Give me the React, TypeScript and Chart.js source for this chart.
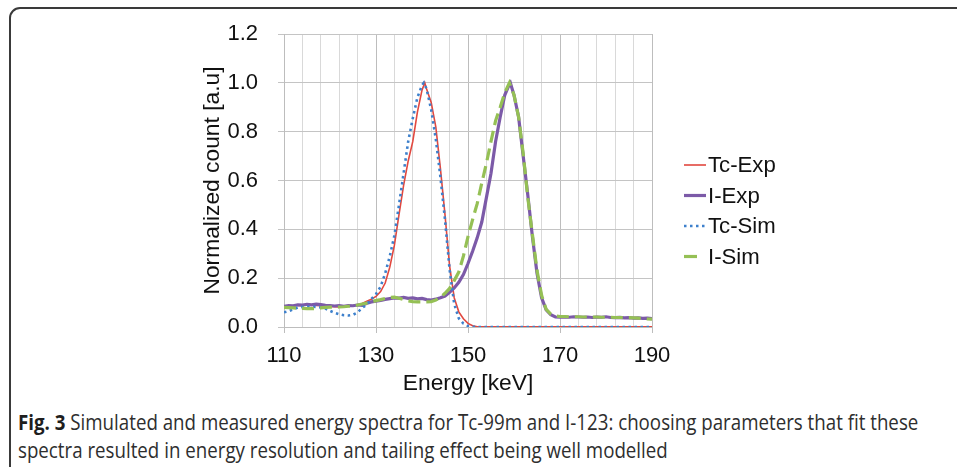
import React, { useEffect, useRef } from "react";
import { Chart, registerables } from "chart.js";

Chart.register(...registerables);

// ---------- data ----------
const seriesNames = ["Tc-Exp", "I-Exp", "Tc-Sim", "I-Sim"];

const tcExpEnergy = [110, 111, 112, 113, 114, 115, 116, 117, 118, 119, 120, 121, 122, 123, 124, 125, 126, 127, 128, 129, 130, 131, 132, 133, 134, 135, 136, 137, 138, 139, 140, 140.6, 141, 142, 143, 144, 145, 146, 147, 148, 149, 150, 151, 152, 160, 170, 180, 190];
const tcExpCount = [0.085, 0.087, 0.086, 0.089, 0.088, 0.09, 0.089, 0.088, 0.087, 0.085, 0.084, 0.083, 0.082, 0.084, 0.086, 0.088, 0.091, 0.096, 0.106, 0.114, 0.125, 0.145, 0.18, 0.245, 0.335, 0.46, 0.58, 0.68, 0.76, 0.88, 0.97, 1.0, 0.975, 0.92, 0.82, 0.65, 0.46, 0.25, 0.12, 0.062, 0.034, 0.015, 0.005, 0.001, 0.001, 0.001, 0.001, 0.001];

const iExpEnergy = [110, 111, 112, 113, 114, 115, 116, 117, 118, 119, 120, 121, 122, 123, 124, 125, 126, 127, 128, 129, 130, 131, 132, 133, 134, 135, 136, 137, 138, 139, 140, 141, 142, 143, 144, 145, 146, 147, 148, 149, 150, 151, 152, 153, 154, 155, 156, 157, 158, 159, 159.2, 160, 161, 162, 163, 164, 165, 166, 167, 168, 169, 170, 171, 172, 173, 174, 175, 176, 177, 178, 179, 180, 181, 182, 183, 184, 185, 186, 187, 188, 189, 190];
const iExpCount = [0.085, 0.088, 0.087, 0.091, 0.09, 0.093, 0.091, 0.094, 0.092, 0.089, 0.088, 0.086, 0.088, 0.085, 0.088, 0.087, 0.09, 0.089, 0.097, 0.103, 0.106, 0.109, 0.113, 0.116, 0.119, 0.118, 0.121, 0.117, 0.119, 0.115, 0.117, 0.112, 0.11, 0.114, 0.12, 0.127, 0.142, 0.16, 0.183, 0.215, 0.26, 0.31, 0.365, 0.43, 0.53, 0.63, 0.76, 0.86, 0.95, 0.995, 1.0, 0.95, 0.86, 0.7, 0.54, 0.37, 0.22, 0.12, 0.07, 0.05, 0.041, 0.04, 0.041, 0.04, 0.042, 0.041, 0.04, 0.041, 0.039, 0.041, 0.04, 0.042, 0.039, 0.038, 0.039, 0.037, 0.038, 0.036, 0.037, 0.035, 0.036, 0.034];

const tcSimEnergy = [110, 111, 112, 113, 114, 115, 116, 117, 118, 119, 120, 121, 122, 123, 124, 125, 126, 127, 128, 129, 130, 131, 132, 133, 134, 135, 136, 137, 138, 139, 140, 140.4, 141, 142, 143, 144, 145, 146, 147, 148, 149, 150, 151, 152, 160, 170, 180, 190];
const tcSimCount = [0.06, 0.065, 0.072, 0.08, 0.082, 0.083, 0.083, 0.082, 0.08, 0.075, 0.066, 0.058, 0.052, 0.048, 0.047, 0.05, 0.06, 0.078, 0.092, 0.115, 0.135, 0.165, 0.22, 0.29, 0.375, 0.5, 0.63, 0.76, 0.855, 0.94, 0.99, 1.0, 0.975, 0.89, 0.77, 0.615, 0.44, 0.235, 0.095, 0.035, 0.014, 0.004, 0.001, 0, 0, 0, 0, 0];

const iSimEnergy = [110, 111, 112, 113, 114, 115, 116, 117, 118, 119, 120, 121, 122, 123, 124, 125, 126, 127, 128, 129, 130, 131, 132, 133, 134, 135, 136, 137, 138, 139, 140, 141, 142, 143, 144, 145, 146, 147, 148, 149, 150, 151, 152, 153, 154, 155, 156, 157, 158, 159, 160, 161, 162, 163, 164, 165, 166, 167, 168, 169, 170, 171, 172, 173, 174, 175, 176, 177, 178, 179, 180, 181, 182, 183, 184, 185, 186, 187, 188, 189, 190];
const iSimCount = [0.08, 0.079, 0.078, 0.077, 0.076, 0.075, 0.075, 0.076, 0.078, 0.08, 0.081, 0.081, 0.082, 0.083, 0.085, 0.087, 0.09, 0.094, 0.098, 0.103, 0.108, 0.112, 0.117, 0.121, 0.122, 0.118, 0.112, 0.107, 0.104, 0.103, 0.103, 0.103, 0.104, 0.11, 0.122, 0.138, 0.158, 0.19, 0.225, 0.29, 0.37, 0.44, 0.505, 0.59, 0.67, 0.76, 0.845, 0.9, 0.96, 1.0, 0.95, 0.86, 0.71, 0.53, 0.38, 0.232, 0.13, 0.072, 0.053, 0.045, 0.043, 0.043, 0.042, 0.042, 0.042, 0.041, 0.041, 0.041, 0.041, 0.04, 0.04, 0.04, 0.039, 0.039, 0.038, 0.038, 0.037, 0.036, 0.035, 0.033, 0.032];

const xTickLabels = [110, 130, 150, 170, 190];
const yTickLabels = [0, 0.2, 0.4, 0.6, 0.8, 1.0, 1.2];

const xTitle = "Energy [keV]";
const yTitle = "Normalized count [a.u]";
const captionBold = "Fig. 3";
const captionLine1 = " Simulated and measured energy spectra for Tc-99m and I-123: choosing parameters that fit these";
const captionLine2 = "spectra resulted in energy resolution and tailing effect being well modelled";

// ---------- styles ----------
const FONT = '"Liberation Sans", Arial, sans-serif';
const FS_TICK = 22;
const FS_TITLE = 22.8;
const FS_LEGEND = 22.2;

const toXY = (xs: number[], ys: number[]) => xs.map((x, i) => ({ x, y: ys[i] }));

const legendPlugin = {
  id: "sideLegend",
  afterDraw(chart: any) {
    const { ctx, chartArea } = chart;
    const x0 = chartArea.right + 32;
    const y0 = chartArea.top + 131;
    ctx.save();
    chart.data.datasets.forEach((ds: any, i: number) => {
      const y = y0 + i * 30.5;
      ctx.beginPath();
      ctx.strokeStyle = ds.borderColor;
      ctx.lineWidth = ds.borderWidth;
      ctx.setLineDash(ds.legendDash || ds.borderDash || []);
      ctx.moveTo(x0, y);
      ctx.lineTo(x0 + 22, y);
      ctx.stroke();
      ctx.setLineDash([]);
      ctx.fillStyle = "#111";
      ctx.font = `${FS_LEGEND}px ${FONT}`;
      ctx.textBaseline = "middle";
      ctx.textAlign = "left";
      ctx.fillText(ds.label, x0 + 24, y + 1);
    });
    ctx.restore();
  },
};

export default function App() {
  const canvasRef = useRef<HTMLCanvasElement | null>(null);
  const l1Ref = useRef<HTMLDivElement | null>(null);
  const l2Ref = useRef<HTMLDivElement | null>(null);

  useEffect(() => {
    if (!canvasRef.current) return;
    const chart = new Chart(canvasRef.current, {
      type: "line",
      data: {
        datasets: [
          {
            label: seriesNames[0],
            data: toXY(tcExpEnergy, tcExpCount),
            borderColor: "#e2483f",
            borderWidth: 1.6,
            pointRadius: 0,
            order: 4,
          },
          {
            label: seriesNames[1],
            data: toXY(iExpEnergy, iExpCount),
            borderColor: "#7c5aa8",
            borderWidth: 3.2,
            pointRadius: 0,
            order: 3,
          },
          {
            label: seriesNames[2],
            data: toXY(tcSimEnergy, tcSimCount),
            borderColor: "#3d80cc",
            borderWidth: 2.6,
            borderDash: [2.5, 3.5],
            pointRadius: 0,
            order: 2,
          },
          {
            label: seriesNames[3],
            data: toXY(iSimEnergy, iSimCount),
            borderColor: "#95c055",
            borderWidth: 3.2,
            borderDash: [12, 6],
            legendDash: [13, 20],
            pointRadius: 0,
            order: 1,
          } as any,
        ],
      },
      options: {
        animation: false,
        responsive: false,
        devicePixelRatio: 1,
        layout: { padding: { left: 190, right: 305, top: 34, bottom: 1 } },
        plugins: { legend: { display: false }, tooltip: { enabled: false } },
        elements: { line: { tension: 0 } },
        scales: {
          x: {
            type: "linear",
            min: 110,
            max: 190,
            afterFit: (s: any) => {
              s.height = 72;
            },
            ticks: {
              stepSize: 4,
              autoSkip: false,
              maxRotation: 0,
              padding: 10,
              color: "#111",
              font: { family: FONT, size: FS_TICK },
              callback: (v: any) => (xTickLabels.includes(Number(v)) ? String(v) : ""),
            },
            grid: {
              color: (c: any) => (c.tick && xTickLabels.includes(c.tick.value) ? "#bdbdbd" : "#d9d9d9"),
              tickColor: (c: any) => (c.tick && xTickLabels.includes(c.tick.value) ? "#bdbdbd" : "rgba(0,0,0,0)"),
              tickLength: 6,
              lineWidth: 1,
            },
            border: { color: "#bdbdbd" },
            title: {
              display: true,
              text: xTitle,
              color: "#111",
              font: { family: FONT, size: FS_TITLE },
              padding: { top: 0, bottom: 1.5 },
            },
          },
          y: {
            type: "linear",
            min: 0,
            max: 1.2,
            afterFit: (s: any) => {
              s.width = 94;
            },
            ticks: {
              stepSize: 0.2,
              padding: 20,
              color: "#111",
              font: { family: FONT, size: FS_TICK },
              callback: (v: any) => {
                const n = Number(v);
                const hit = yTickLabels.find((t) => Math.abs(t - n) < 1e-6);
                return hit === undefined ? "" : hit.toFixed(1);
              },
            },
            grid: { color: "#c4c4c4", tickColor: "#c4c4c4", tickLength: 6, lineWidth: 1 },
            border: { color: "#bdbdbd" },
            title: {
              display: true,
              text: yTitle,
              color: "#111",
              font: { family: FONT, size: FS_TITLE },
              padding: { top: 9, bottom: 0 },
            },
          },
        },
      },
      plugins: [legendPlugin],
    });

    // fit caption lines to the figure width
    const w1 = l1Ref.current ? l1Ref.current.scrollWidth : 0;
    if (w1 > 0 && l1Ref.current && l2Ref.current) {
      const k = 900 / w1;
      l1Ref.current.style.transform = `scaleX(${k})`;
      l2Ref.current.style.transform = `scaleX(${k})`;
    }

    return () => chart.destroy();
  }, []);

  const capStyle: React.CSSProperties = {
    position: "absolute",
    left: 18,
    whiteSpace: "nowrap",
    fontFamily: '"Open Sans", sans-serif',
    fontSize: 21,
    lineHeight: "28px",
    color: "#2e2e2e",
    transformOrigin: "0 0",
    display: "inline-block",
  };

  return (
    <div
      style={{
        position: "absolute",
        left: 0,
        top: 0,
        width: 957,
        height: 467,
        overflow: "hidden",
        background: "#fff",
      }}
    >
      <div
        style={{
          position: "absolute",
          left: 9,
          top: 7,
          width: 1000,
          height: 520,
          border: "2px solid #3a3a3a",
          borderRadius: 11,
          boxSizing: "border-box",
        }}
      />
      <canvas
        ref={canvasRef}
        width={957}
        height={400}
        style={{ position: "absolute", left: 0, top: 0, width: 957, height: 400 }}
      />
      <div ref={l1Ref} style={{ ...capStyle, top: 408 }}>
        <b style={{ color: "#1e1e1e" }}>{captionBold}</b>
        {captionLine1}
      </div>
      <div ref={l2Ref} style={{ ...capStyle, top: 436 }}>
        {captionLine2}
      </div>
    </div>
  );
}
